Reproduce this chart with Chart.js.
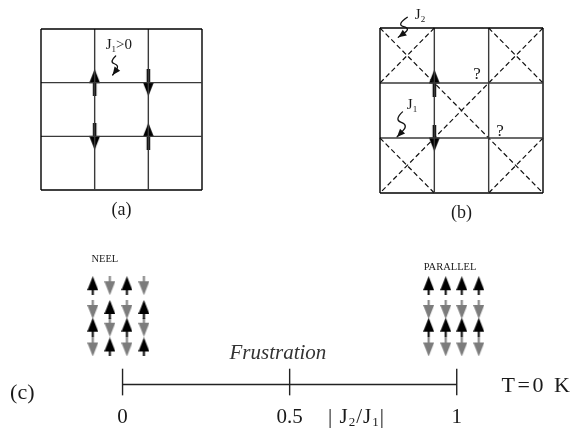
<!DOCTYPE html>
<html>
<head>
<meta charset="utf-8">
<script src="https://cdn.jsdelivr.net/npm/chart.js@4/dist/chart.umd.min.js"></script>
<style>
  body { margin: 0; background: #fff; }
  #wrap { position: relative; width: 574px; height: 430px; }
  #wrap canvas { position: absolute; left: 0; top: 0; }
</style>
</head>
<body>
<div id="wrap">
  <canvas id="latticeA" width="574" height="430"></canvas>
  <canvas id="latticeB" width="574" height="430"></canvas>
  <canvas id="phase" width="574" height="430"></canvas>
</div>
<script>
// Lattices (a) and (b): 3x3 cells, lines at integer positions (y counts down)
const latticeLines = [0, 1, 2, 3];

// spins on lattice sites [x, y, direction]
const spinsA = [[1, 1, 'up'], [2, 1, 'down'], [1, 2, 'down'], [2, 2, 'up']];
const spinsB = [[1, 1, 'up'], [1, 2, 'down']];

// J2 bonds in (b), dashed diagonals [x1, y1, x2, y2]
const diagonalsB = [[0, 0, 3, 3], [3, 0, 0, 3], [1, 0, 0, 1], [2, 0, 3, 1], [0, 2, 1, 3], [3, 2, 2, 3]];
const frustratedSites = [[1.785, 0.855], [2.209, 1.891]];

// Phase diagram (c)
const ratioTicks = [0, 0.5, 1];
const ratioTickLabels = ['0', '0.5', '1'];
const spinRows = [5, 3.8, 2.9, 1.9];
const neelColumns = [-0.089, -0.038, 0.013, 0.064];
const neelSpins = [
  ['up', 'down', 'up', 'down'],
  ['down', 'up', 'down', 'up'],
  ['up', 'down', 'up', 'down'],
  ['down', 'up', 'down', 'up']
];
const parallelColumns = [0.916, 0.967, 1.015, 1.066];
const parallelSpins = [
  ['up', 'down', 'up', 'down'],
  ['up', 'down', 'up', 'down'],
  ['up', 'down', 'up', 'down'],
  ['up', 'down', 'up', 'down']
];

const SERIF = '"Liberation Serif", "Times New Roman", serif';

// arrow glyph used as point style
function arrowGlyph(w, h, headH, stemW, color, down) {
  const c = document.createElement('canvas');
  c.width = w; c.height = h;
  const g = c.getContext('2d');
  g.fillStyle = color;
  if (down) { g.translate(0, h); g.scale(1, -1); }
  g.beginPath();
  g.moveTo(w / 2, 0);
  g.lineTo(w, headH);
  g.lineTo(0, headH);
  g.closePath();
  g.fill();
  g.fillRect((w - stemW) / 2, headH - 1, stemW, h - headH + 1);
  return c;
}

const bigUp = arrowGlyph(11, 27, 14, 3.5, '#000', false);
const bigDown = arrowGlyph(11, 27, 14, 3.5, '#000', true);
const smallUp = arrowGlyph(11, 19, 14, 2, '#000', false);
const smallDown = arrowGlyph(11, 19, 14, 2, '#7c7c7c', true);

function lineSeg(x1, y1, x2, y2, color, width, dash) {
  return {
    data: [{x: x1, y: y1}, {x: x2, y: y2}],
    showLine: true, borderColor: color, borderWidth: width,
    borderDash: dash || [], pointRadius: 0, clip: false, fill: false
  };
}

function spinSet(points, glyph) {
  return { data: points, showLine: false, pointStyle: glyph, pointRadius: 5, clip: false };
}

function latticeSpins(list, dir) {
  return list.filter(s => s[2] === dir).map(s => ({x: s[0], y: s[1]}));
}

function columnSpins(columns, pattern, dir) {
  const out = [];
  columns.forEach((cx, c) => {
    spinRows.forEach((ry, r) => {
      if (pattern[c][r] === dir) out.push({x: cx, y: ry});
    });
  });
  return out;
}

function latticeGrid() {
  const sets = [];
  latticeLines.forEach(v => {
    const edge = v === latticeLines[0] || v === latticeLines[latticeLines.length - 1];
    const col = edge ? '#000' : '#3a3a3a';
    sets.push(lineSeg(v, 0, v, 3, col, 1.4));
    sets.push(lineSeg(0, v, 3, v, col, 1.4));
  });
  return sets;
}

// text with subscripts: parts = [[text, isSub], ...]
function drawRich(ctx, t, px, py) {
  const style = t.italic ? 'italic ' : '';
  ctx.save();
  ctx.fillStyle = t.color || '#1a1a1a';
  ctx.textBaseline = 'middle';
  ctx.textAlign = 'left';
  ctx.letterSpacing = (t.spacing || 0) + 'px';
  const fonts = t.parts.map(p => style + (p[1] ? Math.round(t.size * 0.62) : t.size) + 'px ' + SERIF);
  const widths = t.parts.map((p, i) => { ctx.font = fonts[i]; return ctx.measureText(p[0]).width; });
  const total = widths.reduce((a, b) => a + b, 0);
  let cx = px - total / 2;
  t.parts.forEach((p, i) => {
    ctx.font = fonts[i];
    ctx.fillText(p[0], cx, py + (p[1] ? t.size * 0.28 : 0));
    cx += widths[i];
  });
  ctx.restore();
}

// wiggly coupling arrow, path in pixels relative to the tip
function drawSquiggle(ctx, tx, ty, path) {
  const pts = path.map(p => [tx + p[0], ty + p[1]]);
  ctx.save();
  ctx.strokeStyle = '#111';
  ctx.fillStyle = '#111';
  ctx.lineWidth = 1.3;
  ctx.lineJoin = 'round';
  ctx.lineCap = 'round';
  ctx.beginPath();
  ctx.moveTo(pts[0][0], pts[0][1]);
  for (let i = 1; i < pts.length - 1; i++) {
    const mx = (pts[i][0] + pts[i + 1][0]) / 2, my = (pts[i][1] + pts[i + 1][1]) / 2;
    ctx.quadraticCurveTo(pts[i][0], pts[i][1], mx, my);
  }
  ctx.lineTo(tx, ty);
  ctx.stroke();
  const a = path[path.length - 2];
  const ang = Math.atan2(-a[1], -a[0]);
  const L = 8, W = 3.5;
  ctx.beginPath();
  ctx.moveTo(tx, ty);
  ctx.lineTo(tx - L * Math.cos(ang) - W * Math.sin(ang), ty - L * Math.sin(ang) + W * Math.cos(ang));
  ctx.lineTo(tx - L * Math.cos(ang) + W * Math.sin(ang), ty - L * Math.sin(ang) - W * Math.cos(ang));
  ctx.closePath();
  ctx.fill();
  ctx.restore();
}

function textPlugin(items, squiggles) {
  return {
    id: 'texts',
    afterDatasetsDraw(chart) {
      const {ctx, scales: {x, y}} = chart;
      items.forEach(t => drawRich(ctx, t, x.getPixelForValue(t.x), y.getPixelForValue(t.y)));
      (squiggles || []).forEach(s => drawSquiggle(ctx, x.getPixelForValue(s.x), y.getPixelForValue(s.y), s.path));
    }
  };
}

function baseOptions(pad, xr, yr, reverseY) {
  return {
    responsive: false, animation: false, events: [],
    layout: {padding: pad},
    plugins: {legend: {display: false}, tooltip: {enabled: false}},
    scales: {
      x: {type: 'linear', display: false, min: xr[0], max: xr[1]},
      y: {type: 'linear', display: false, min: yr[0], max: yr[1], reverse: reverseY}
    }
  };
}

// (a)
new Chart(document.getElementById('latticeA'), {
  type: 'scatter',
  data: {
    datasets: latticeGrid().concat([
      spinSet(latticeSpins(spinsA, 'up'), bigUp),
      spinSet(latticeSpins(spinsA, 'down'), bigDown)
    ])
  },
  options: baseOptions({left: 41, top: 29, right: 372, bottom: 240}, [0, 3], [0, 3], true),
  plugins: [textPlugin([
    {x: 1.45, y: 0.3, size: 15, parts: [['J'], ['1', true], ['>0']]},
    {x: 1.5, y: 3.37, size: 18, parts: [['(a)']]}
  ], [
    {x: 1.335, y: 0.857, path: [[3, -19], [-3.5, -13], [7, -9.5], [0, 0]]}
  ])]
});

// (b)
new Chart(document.getElementById('latticeB'), {
  type: 'scatter',
  data: {
    datasets: latticeGrid()
      .concat(diagonalsB.map(d => lineSeg(d[0], d[1], d[2], d[3], '#111', 1.2, [5, 3])))
      .concat([
        spinSet(latticeSpins(spinsB, 'up'), bigUp),
        spinSet(latticeSpins(spinsB, 'down'), bigDown)
      ])
  },
  options: baseOptions({left: 380, top: 28, right: 31, bottom: 237}, [0, 3], [0, 3], true),
  plugins: [textPlugin([
    {x: 0.736, y: -0.236, size: 15, parts: [['J'], ['2', true]]},
    {x: 0.589, y: 1.4, size: 15, parts: [['J'], ['1', true]]},
    ...frustratedSites.map(s => ({x: s[0], y: s[1], size: 17, parts: [['?']]})),
    {x: 1.5, y: 3.36, size: 18, parts: [['(b)']]}
  ], [
    {x: 0.337, y: 0.169, path: [[9, -20], [-2, -12.5], [12.5, -9], [0, 0]]},
    {x: 0.313, y: 1.98, path: [[5.5, -25], [-3, -17], [11.5, -12], [0, 0]]}
  ])]
});

// (c)
new Chart(document.getElementById('phase'), {
  type: 'scatter',
  data: {
    datasets: [lineSeg(ratioTicks[0], 0, ratioTicks[ratioTicks.length - 1], 0, '#222', 1.4)]
      .concat(ratioTicks.map(v => lineSeg(v, -0.55, v, 0.8, '#222', 1.4)))
      .concat([
        spinSet(columnSpins(neelColumns, neelSpins, 'up'), smallUp),
        spinSet(columnSpins(neelColumns, neelSpins, 'down'), smallDown),
        spinSet(columnSpins(parallelColumns, parallelSpins, 'up'), smallUp),
        spinSet(columnSpins(parallelColumns, parallelSpins, 'down'), smallDown)
      ])
  },
  options: baseOptions({left: 39, top: 266, right: 17, bottom: 4}, [-0.25, 1.3], [-2, 6], false),
  plugins: [textPlugin([
    ...ratioTicks.map((v, i) => ({x: v, y: -1.65, size: 21, parts: [[ratioTickLabels[i]]]})),
    {x: 0.70, y: -1.65, size: 21, spacing: 1, parts: [['| J'], ['2', true], ['/J'], ['1', true], ['|']]},
    {x: 0.465, y: 1.55, size: 21, italic: true, color: '#333', parts: [['Frustration']]},
    {x: 1.24, y: -0.1, size: 22, spacing: 2.5, parts: [['T=0 K']]},
    {x: -0.30, y: -0.45, size: 22, parts: [['(c)']]},
    {x: -0.053, y: 6.35, size: 10.5, parts: [['NEEL']]},
    {x: 0.98, y: 5.95, size: 10.5, parts: [['PARALLEL']]}
  ])]
});
</script>
</body>
</html>
